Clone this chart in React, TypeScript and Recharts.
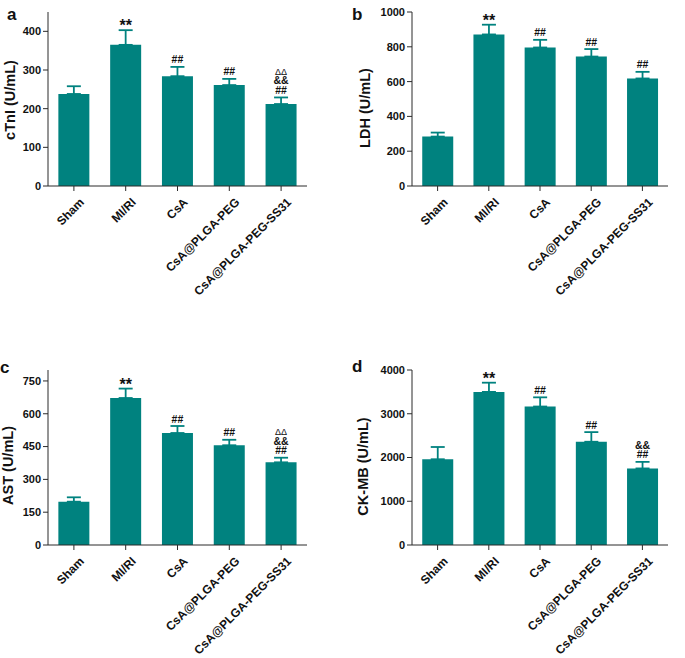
import React from 'react';
import { BarChart, Bar, XAxis, YAxis, ErrorBar, LabelList } from 'recharts';

const categories = ['Sham', 'MI/RI', 'CsA', 'CsA@PLGA-PEG', 'CsA@PLGA-PEG-SS31'];

const cTnIValues = [238, 365, 284, 261, 212];
const cTnIErrors = [20, 38, 24, 16, 17];
const cTnIMarks = ['', '**', '##', '##', 'ΔΔ|&&|##'];
const cTnITicks = [0, 100, 200, 300, 400];

const ldhValues = [284, 871, 796, 744, 618];
const ldhErrors = [23, 56, 44, 43, 38];
const ldhMarks = ['', '**', '##', '##', '##'];
const ldhTicks = [0, 200, 400, 600, 800, 1000];

const astValues = [198, 672, 512, 456, 378];
const astErrors = [20, 43, 32, 25, 21];
const astMarks = ['', '**', '##', '##', 'ΔΔ|&&|##'];
const astTicks = [0, 150, 300, 450, 600, 750];

const ckmbValues = [1960, 3500, 3165, 2360, 1750];
const ckmbErrors = [280, 210, 210, 220, 150];
const ckmbMarks = ['', '**', '##', '##', '&&|##'];
const ckmbTicks = [0, 1000, 2000, 3000, 4000];

const TEAL = '#00827f';
const AXIS = '#2b2b2b';
const FONT = '"Liberation Sans", Arial, Helvetica, sans-serif';

function buildRows(values: number[], errors: number[], marks: string[]) {
  return categories.map((name, i) => ({
    name,
    value: values[i],
    err: [0, errors[i]],
    marks: marks[i],
  }));
}

const RotTick = (props: any) => {
  const { x, y, payload } = props;
  const ax = x + 11;
  const ay = y + 10;
  return (
    <text
      x={ax}
      y={ay}
      transform={`rotate(-45 ${ax} ${ay})`}
      textAnchor="end"
      fontSize={12}
      fontWeight="bold"
      fontFamily={FONT}
      fill="#111"
    >
      {payload.value}
    </text>
  );
};

const makeMarks = (values: number[], errors: number[], marks: string[]) => (props: any) => {
  const vb = props.viewBox && props.viewBox.x !== undefined ? props.viewBox : props;
  const x = Number(vb.x);
  const y = Number(vb.y);
  const width = Number(vb.width);
  const height = Number(vb.height);
  let index = props.index;
  if (index === undefined || index === null) index = values.indexOf(Number(props.value));
  if (index < 0 || !marks[index]) return null;
  const v = values[index];
  const errTop = y - (errors[index] / v) * height;
  const cx = x + width / 2;
  const lines = marks[index].split('|');
  if (lines[0] === '**') {
    return (
      <text x={cx} y={errTop + 1} textAnchor="middle" fontSize={16} fontWeight="bold" fontFamily={FONT} fill="#111">
        **
      </text>
    );
  }
  const n = lines.length;
  return (
    <g>
      {lines.map((t, k) => {
        const base = errTop - 3.5 - (n - 1 - k) * 9.5;
        const isDelta = t.indexOf('Δ') >= 0;
        return (
          <text
            key={k}
            x={cx}
            y={base}
            textAnchor="middle"
            fontSize={isDelta ? 9 : 10.5}
            fontWeight={isDelta ? 'normal' : 'bold'}
            fontFamily={FONT}
            fill="#111"
          >
            {t}
          </text>
        );
      })}
    </g>
  );
};

type PanelProps = {
  left: number;
  top: number;
  width: number;
  height: number;
  marginTop: number;
  marginRight: number;
  yWidth: number;
  plotHeight: number;
  title: string;
  titleDx: number;
  titleDy: number;
  values: number[];
  errors: number[];
  marks: string[];
  ticks: number[];
  domain: [number, number];
};

const Panel = (p: PanelProps) => {
  const rows = buildRows(p.values, p.errors, p.marks);
  const xHeight = p.height - p.marginTop - p.plotHeight;
  const titleContent = (props: any) => {
    const vb = props.viewBox || {};
    const axisX = Number(vb.x) + Number(vb.width);
    const cx = axisX - p.titleDx;
    const cy = Number(vb.y) + Number(vb.height) / 2 + p.titleDy;
    return (
      <text
        x={cx}
        y={cy}
        transform={`rotate(-90 ${cx} ${cy})`}
        textAnchor="middle"
        dominantBaseline="central"
        fontSize={14.5}
        fontWeight="bold"
        fontFamily={FONT}
        fill="#111"
      >
        {p.title}
      </text>
    );
  };
  return (
    <div style={{ position: 'absolute', left: p.left, top: p.top, width: p.width, height: p.height }}>
      <BarChart
        width={p.width}
        height={p.height}
        data={rows}
        margin={{ top: p.marginTop, right: p.marginRight, bottom: 0, left: 0 }}
        barCategoryGap="20%"
      >
        <XAxis
          dataKey="name"
          interval={0}
          height={xHeight}
          tick={<RotTick />}
          tickSize={5}
          tickLine={{ stroke: AXIS }}
          axisLine={{ stroke: AXIS, strokeWidth: 1 }}
        />
        <YAxis
          width={p.yWidth}
          domain={p.domain}
          ticks={p.ticks}
          interval={0}
          tickSize={5}
          tickMargin={2}
          tickLine={{ stroke: AXIS }}
          axisLine={{ stroke: AXIS, strokeWidth: 1 }}
          tick={{ fontSize: 11, fontWeight: 'bold', fill: '#111', fontFamily: FONT }}
          label={{ content: titleContent }}
        />
        <Bar dataKey="value" fill={TEAL} isAnimationActive={false}>
          <ErrorBar dataKey="err" direction="y" width={7} strokeWidth={1.8} stroke={TEAL} />
          <LabelList dataKey="value" content={makeMarks(p.values, p.errors, p.marks)} />
        </Bar>
      </BarChart>
    </div>
  );
};

const panelLetterStyle = { fontSize: 17, fontWeight: 'bold' as const, fontFamily: FONT, fill: '#111' };

export default function App() {
  return (
    <div style={{ position: 'absolute', left: 0, top: 0, width: 685, height: 658, background: '#fff', overflow: 'hidden' }}>
      <Panel
        left={0} top={0} width={340} height={340} marginTop={12} marginRight={33} yWidth={48} plotHeight={174}
        title="cTnI (U/mL)" titleDx={38} titleDy={1}
        values={cTnIValues} errors={cTnIErrors} marks={cTnIMarks} ticks={cTnITicks} domain={[0, 450]}
      />
      <Panel
        left={340} top={0} width={345} height={340} marginTop={12} marginRight={17} yWidth={72} plotHeight={174}
        title="LDH (U/mL)" titleDx={47} titleDy={9}
        values={ldhValues} errors={ldhErrors} marks={ldhMarks} ticks={ldhTicks} domain={[0, 1000]}
      />
      <Panel
        left={0} top={360} width={340} height={298} marginTop={10} marginRight={33} yWidth={48} plotHeight={175}
        title="AST (U/mL)" titleDx={40} titleDy={8}
        values={astValues} errors={astErrors} marks={astMarks} ticks={astTicks} domain={[0, 800]}
      />
      <Panel
        left={340} top={360} width={345} height={298} marginTop={10} marginRight={17} yWidth={72} plotHeight={175}
        title="CK-MB (U/mL)" titleDx={49} titleDy={9}
        values={ckmbValues} errors={ckmbErrors} marks={ckmbMarks} ticks={ckmbTicks} domain={[0, 4000]}
      />
      <svg width={685} height={658} style={{ position: 'absolute', left: 0, top: 0, pointerEvents: 'none' }}>
        <text x={7} y={20} {...panelLetterStyle}>a</text>
        <text x={352} y={20} {...panelLetterStyle}>b</text>
        <text x={0} y={373} {...panelLetterStyle}>c</text>
        <text x={352} y={372} {...panelLetterStyle}>d</text>
      </svg>
    </div>
  );
}
